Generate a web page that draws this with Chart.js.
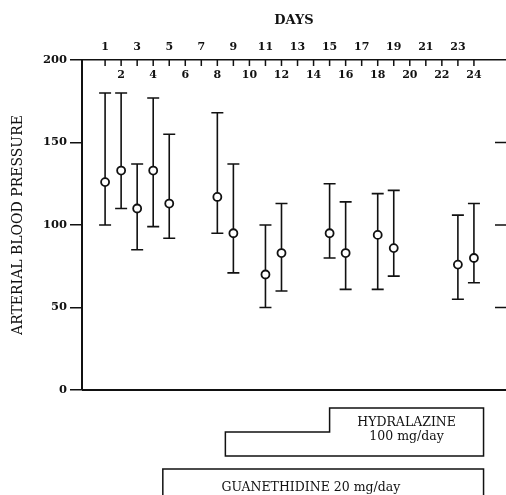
<!DOCTYPE html>
<html><head><meta charset="utf-8">
<style>html,body{margin:0;padding:0;background:#fff;overflow:hidden}#wrap{width:506px;height:495px;position:relative}</style>
<script src="https://cdn.jsdelivr.net/npm/chart.js@4.4.1/dist/chart.umd.min.js"></script>
</head><body><div id="wrap"><canvas id="c" width="506" height="495"></canvas></div>
<script>
// ---- data ----
const days   = [1, 2, 3, 4, 5, 8, 9, 11, 12, 15, 16, 18, 19, 23, 24];
const meanBP = [126, 133, 110, 133, 113, 117, 95, 70, 83, 95, 83, 94, 86, 76, 80];
const highBP = [180, 180, 137, 177, 155, 168, 137, 100, 113, 125, 114, 119, 121, 106, 113];
const lowBP  = [100, 110, 85, 99, 92, 95, 71, 50, 60, 80, 61, 61, 69, 55, 65];
const dayTicks = [1,2,3,4,5,6,7,8,9,10,11,12,13,14,15,16,17,18,19,20,21,22,23,24];
const yTicks = [0, 50, 100, 150, 200];
const hydralazineLabel = ['HYDRALAZINE', '100 mg/day'];
const hydralazineDays = [8.5, 15, 24.6];   // start (low step), full dose from, end
const guanethidineLabel = 'GUANETHIDINE 20 mg/day';
const guanethidineDays = [4.6, 24.6];

const FONT = "'DejaVu Serif', 'Liberation Serif', serif";
const INK = '#111';

const decor = {
  id: 'decor',
  beforeDatasetsDraw(chart) {
    const {ctx, scales: {x, y}} = chart;
    ctx.save();
    ctx.strokeStyle = INK; ctx.lineWidth = 1.6;
    days.forEach((d, i) => {
      const px = x.getPixelForValue(d);
      const yh = y.getPixelForValue(highBP[i]);
      const yl = y.getPixelForValue(lowBP[i]);
      ctx.beginPath();
      ctx.moveTo(px, yh); ctx.lineTo(px, yl);
      ctx.moveTo(px - 6, yh); ctx.lineTo(px + 6, yh);
      ctx.moveTo(px - 6, yl); ctx.lineTo(px + 6, yl);
      ctx.stroke();
    });
    ctx.restore();
  },
  afterDraw(chart) {
    const {ctx, chartArea: ca, scales: {x, y}} = chart;
    ctx.save();
    ctx.strokeStyle = INK; ctx.fillStyle = INK;
    ctx.lineWidth = 1.5;
    ctx.beginPath();
    dayTicks.forEach(d => { const px = x.getPixelForValue(d); ctx.moveTo(px, ca.top); ctx.lineTo(px, ca.top + 6); });
    yTicks.filter(v => v > 0 && v < 200).forEach(v => { const py = y.getPixelForValue(v); ctx.moveTo(ca.right - 11, py); ctx.lineTo(ca.right, py); });
    ctx.stroke();
    ctx.lineWidth = 2;
    ctx.beginPath(); ctx.moveTo(ca.left, ca.bottom); ctx.lineTo(ca.right, ca.bottom); ctx.stroke();
    // even day labels under the top axis
    ctx.font = `bold 11px ${FONT}`; ctx.textAlign = 'center'; ctx.textBaseline = 'middle';
    dayTicks.filter(d => d % 2 === 0).forEach(d => ctx.fillText(String(d), x.getPixelForValue(d), ca.top + 15.5));
    // treatment boxes
    const b = ca.bottom;
    const [h0, h1, h2] = hydralazineDays.map(d => x.getPixelForValue(d));
    ctx.lineWidth = 1.5;
    ctx.beginPath();
    ctx.moveTo(h0, b + 42); ctx.lineTo(h1, b + 42); ctx.lineTo(h1, b + 18); ctx.lineTo(h2, b + 18);
    ctx.lineTo(h2, b + 66); ctx.lineTo(h0, b + 66); ctx.closePath(); ctx.stroke();
    ctx.font = `12.5px ${FONT}`;
    ctx.fillText(hydralazineLabel[0], (h1 + h2) / 2, b + 33);
    ctx.fillText(hydralazineLabel[1], (h1 + h2) / 2, b + 47);
    const [g0, g1] = guanethidineDays.map(d => x.getPixelForValue(d));
    ctx.beginPath();
    ctx.moveTo(g0, b + 120); ctx.lineTo(g0, b + 79); ctx.lineTo(g1, b + 79); ctx.lineTo(g1, b + 120); ctx.stroke();
    ctx.fillText(guanethidineLabel, g0 + 148, b + 98);
    ctx.restore();
  }
};

new Chart(document.getElementById('c'), {
  type: 'scatter',
  data: {
    datasets: [{
      data: days.map((d, i) => ({x: d, y: meanBP[i]})),
      pointRadius: 4, pointHoverRadius: 4,
      pointBackgroundColor: '#fff', pointBorderColor: INK, pointBorderWidth: 1.8,
      showLine: false, clip: false
    }]
  },
  options: {
    responsive: false, animation: false, devicePixelRatio: 1,
    layout: {autoPadding: false, padding: {left: 0, right: 0, top: 0, bottom: 105}},
    plugins: {legend: {display: false}, tooltip: {enabled: false}},
    scales: {
      x: {
        type: 'linear', position: 'top', min: -0.44, max: 26.0,
        afterBuildTicks: s => { s.ticks = dayTicks.map(v => ({value: v})); },
        afterFit: s => { s.height = 60; },
        ticks: {autoSkip: false, maxRotation: 0, padding: 6, color: INK,
                font: {family: FONT, size: 11, weight: 'bold'},
                callback: v => (v % 2 ? String(v) : '')},
        grid: {display: false, drawTicks: false},
        border: {display: true, color: INK, width: 1.6},
        title: {display: true, text: 'DAYS', color: INK, padding: {top: 13, bottom: 0},
                font: {family: FONT, size: 13, weight: 'bold'}}
      },
      y: {
        type: 'linear', position: 'left', min: 0, max: 200,
        afterBuildTicks: s => { s.ticks = yTicks.map(v => ({value: v})); },
        afterFit: s => { s.width = 82; },
        ticks: {padding: 3, color: INK, font: {family: FONT, size: 11.5, weight: 'bold'}},
        grid: {display: true, drawOnChartArea: false, drawTicks: true, tickLength: 12, color: INK, lineWidth: 1.5},
        border: {display: true, color: INK, width: 2},
        title: {display: true, text: 'ARTERIAL BLOOD PRESSURE', color: INK, padding: {top: 10, bottom: 0},
                font: {family: FONT, size: 14}}
      }
    }
  },
  plugins: [decor]
});
</script></body></html>
